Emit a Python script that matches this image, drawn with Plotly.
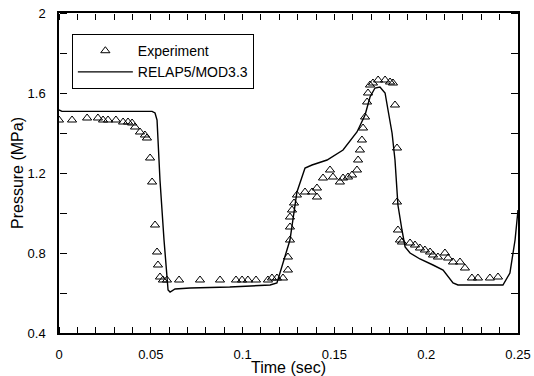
import plotly.graph_objects as go

# RELAP5/MOD3.3 calculation
calc_t = [0, 0.0016, 0.0507, 0.0523, 0.0534, 0.055, 0.0572, 0.0594, 0.0605, 0.0632, 0.0714,
          0.093, 0.115, 0.1187, 0.1258, 0.1296, 0.134, 0.1378, 0.146, 0.1547, 0.1623, 0.1667,
          0.1694, 0.1721, 0.1748, 0.1776, 0.1792, 0.1814, 0.183, 0.1846, 0.1868, 0.1885,
          0.1912, 0.1966, 0.2037, 0.2092, 0.2146, 0.2173, 0.2418, 0.2456, 0.2484, 0.25]
calc_p = [1.515, 1.508, 1.508, 1.50, 1.465, 1.165, 0.865, 0.615, 0.605, 0.62, 0.625,
          0.63, 0.64, 0.65, 0.865, 1.105, 1.225, 1.24, 1.265, 1.315, 1.405, 1.49,
          1.58, 1.625, 1.63, 1.60, 1.515, 1.40, 1.265, 1.04, 0.915, 0.83,
          0.80, 0.77, 0.74, 0.715, 0.65, 0.64, 0.64, 0.70, 0.865, 1.015]

# Experiment
exp_t = [0, 0.0071, 0.0153, 0.0212, 0.024, 0.0267, 0.031, 0.0349, 0.0376, 0.0398, 0.0414,
         0.0441, 0.0468, 0.0479, 0.0496, 0.0507, 0.0523, 0.0534, 0.0539, 0.055, 0.0566,
         0.0588, 0.0654, 0.0768, 0.0877, 0.0964, 0.0997, 0.1029, 0.1073, 0.1138, 0.116,
         0.1187, 0.122, 0.1247, 0.1247, 0.1258, 0.1258, 0.1258, 0.1269, 0.128, 0.1296,
         0.134, 0.1378, 0.1405, 0.1405, 0.1438, 0.1476, 0.1492, 0.153, 0.1547, 0.1574,
         0.1596, 0.1623, 0.1629, 0.1639, 0.165, 0.1656, 0.1667, 0.1678, 0.1683, 0.1694,
         0.171, 0.1738, 0.1776, 0.1803, 0.1819, 0.183, 0.1841, 0.1841, 0.1846, 0.1857,
         0.1868, 0.1912, 0.1939, 0.1966, 0.1993, 0.2021, 0.2037, 0.2064, 0.2102, 0.2119,
         0.2146, 0.2184, 0.2211, 0.2249, 0.2282, 0.2347, 0.2391]
exp_p = [1.465, 1.465, 1.475, 1.475, 1.465, 1.465, 1.465, 1.455, 1.455, 1.45, 1.43,
         1.405, 1.39, 1.375, 1.275, 1.155, 0.94, 0.805, 0.74, 0.68, 0.665,
         0.665, 0.665, 0.665, 0.665, 0.665, 0.665, 0.665, 0.665, 0.665, 0.675,
         0.675, 0.675, 0.715, 0.78, 0.865, 0.93, 0.98, 1.015, 1.05, 1.09,
         1.105, 1.105, 1.08, 1.125, 1.175, 1.215, 1.18, 1.155, 1.175, 1.18,
         1.19, 1.215, 1.265, 1.315, 1.365, 1.425, 1.48, 1.555, 1.60, 1.64,
         1.65, 1.665, 1.665, 1.655, 1.65, 1.54, 1.325, 1.055, 0.915, 0.865,
         0.855, 0.85, 0.84, 0.825, 0.815, 0.805, 0.79, 0.78, 0.80, 0.775,
         0.755, 0.755, 0.725, 0.675, 0.675, 0.675, 0.68]

x_ticks = [0, 0.05, 0.1, 0.15, 0.2, 0.25]
x_labels = ["0", "0.05", "0.1", "0.15", "0.2", "0.25"]
y_ticks = [0.4, 0.8, 1.2, 1.6, 2.0]
y_labels = ["0.4", "0.8", "1.2", "1.6", "2"]
x_range = [0, 0.25]
y_range = [0.4, 2.0]

fig = go.Figure()
fig.add_trace(go.Scatter(
    x=exp_t, y=exp_p, mode="markers", name="Experiment",
    marker=dict(symbol="triangle-up-open", size=8, color="black", line=dict(width=1, color="black")),
))
fig.add_trace(go.Scatter(
    x=calc_t, y=calc_p, mode="lines", name="RELAP5/MOD3.3",
    line=dict(color="black", width=1.4),
))

# empty carrier traces so that the tick-only helper axes get drawn
for xa, ya in [("x2", "y"), ("x3", "y"), ("x", "y2"), ("x", "y3")]:
    fig.add_trace(go.Scatter(x=[None], y=[None], xaxis=xa, yaxis=ya, mode="lines",
                             showlegend=False, hoverinfo="skip"))

font = dict(family="Liberation Sans, Arial, sans-serif", size=13, color="black")

# helper axes that only carry the inward-pointing tick marks
tick_x = dict(range=x_range, overlaying="x", anchor="free", tickmode="linear", tick0=0, dtick=0.01,
              ticks="outside", ticklen=6, tickcolor="black", tickwidth=1, automargin=False,
              showticklabels=False, showgrid=False, zeroline=False, showline=False)
tick_y = dict(range=y_range, overlaying="y", anchor="free", tickmode="linear", tick0=0.4, dtick=0.2,
              ticks="outside", ticklen=7, tickcolor="black", tickwidth=1, automargin=False,
              showticklabels=False, showgrid=False, zeroline=False, showline=False)

fig.update_layout(
    width=534, height=376,
    margin=dict(l=59, r=16, t=13, b=43),
    paper_bgcolor="white", plot_bgcolor="white",
    font=font,
    showlegend=True,
    legend=dict(x=0.028, y=0.934, xanchor="left", yanchor="top",
                bordercolor="black", borderwidth=1, bgcolor="white",
                font=dict(family="Liberation Sans, Arial, sans-serif", size=14, color="black"),
                itemwidth=55, tracegroupgap=4),
    xaxis=dict(range=x_range, tickmode="array", tickvals=x_ticks, ticktext=x_labels,
               ticks="", ticklabelstandoff=9, automargin=False,
               showline=True, linecolor="black", linewidth=1.5, mirror=True,
               showgrid=False, zeroline=False,
               title=dict(text="Time (sec)", standoff=2)),
    yaxis=dict(range=y_range, tickmode="array", tickvals=y_ticks, ticktext=y_labels,
               ticks="", ticklabelstandoff=9, automargin=False,
               showline=True, linecolor="black", linewidth=1.5, mirror=True,
               showgrid=False, zeroline=False,
               title=dict(text="Pressure (MPa)", standoff=0)),
    xaxis2=dict(tick_x, side="top", position=0),
    xaxis3=dict(tick_x, side="bottom", position=1),
    yaxis2=dict(tick_y, side="right", position=0),
    yaxis3=dict(tick_y, side="left", position=1),
)

fig.write_html("out.html")
